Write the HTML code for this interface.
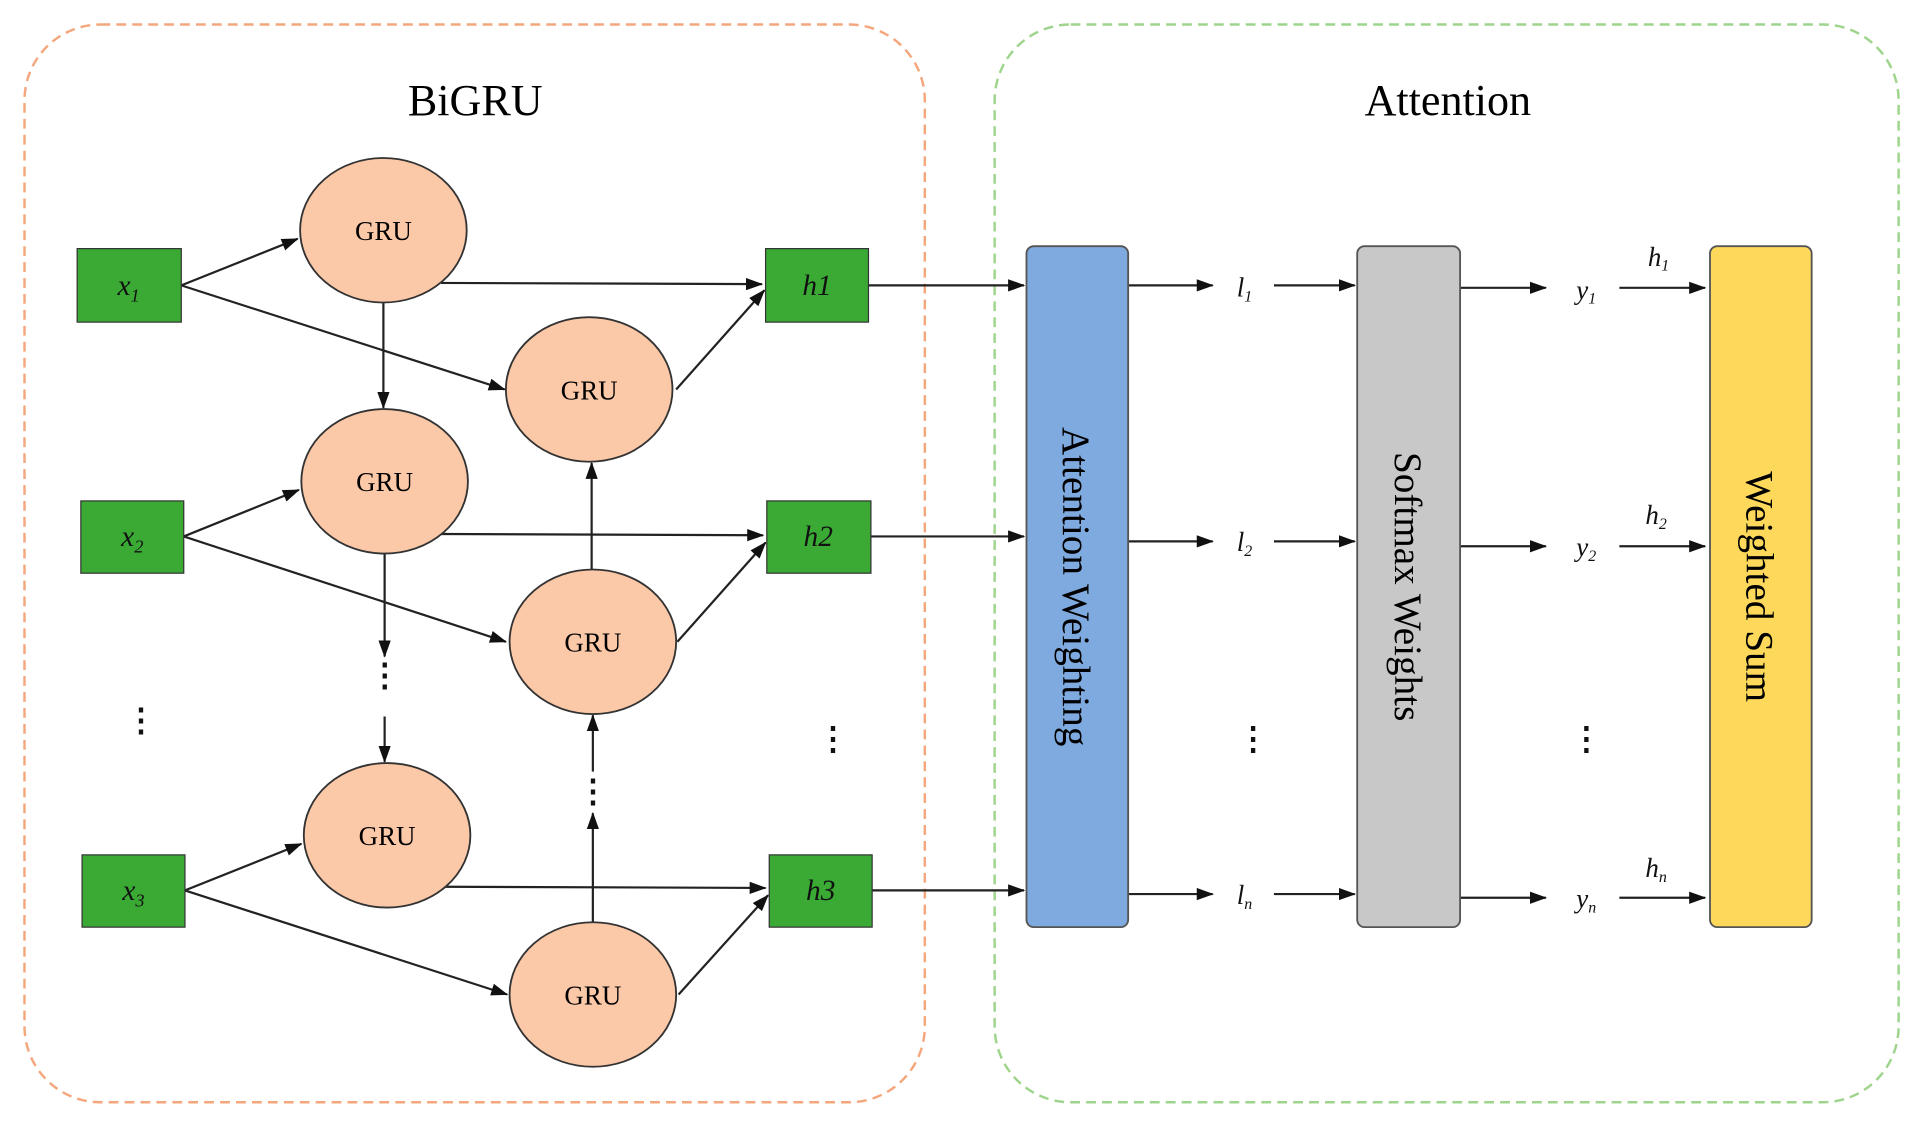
<!DOCTYPE html>
<html><head><style>html,body{margin:0;padding:0;background:#fff}svg{display:block}</style></head>
<body>
<svg width="1917" height="1128" viewBox="0 0 1565 921" preserveAspectRatio="none" xmlns="http://www.w3.org/2000/svg" font-family="Liberation Serif, serif">
<defs><marker id="a" markerWidth="14" markerHeight="10" refX="13" refY="5" orient="auto" markerUnits="userSpaceOnUse"><path d="M0,0 L14,5 L0,10 z" fill="#111"/></marker></defs>
<rect x="20" y="20" width="735" height="880" rx="62" fill="none" stroke="#f4a77c" stroke-width="2" stroke-dasharray="8,5"/>
<rect x="812" y="20" width="738" height="880" rx="62" fill="none" stroke="#9ed48c" stroke-width="2" stroke-dasharray="8,5"/>
<text x="388" y="94" font-size="36" text-anchor="middle">BiGRU</text>
<text x="1182" y="94" font-size="36" text-anchor="middle">Attention</text>
<g stroke="#222" stroke-width="1.8" fill="none" marker-end="url(#a)">
<line x1="148" y1="233" x2="243" y2="195"/>
<line x1="148" y1="233" x2="412" y2="318"/>
<line x1="360" y1="231" x2="622" y2="232"/>
<line x1="552" y1="318" x2="624" y2="237"/>
<line x1="313" y1="247" x2="313" y2="333"/>
<line x1="150" y1="438" x2="244" y2="400"/>
<line x1="150" y1="438" x2="413" y2="524"/>
<line x1="360" y1="436" x2="623" y2="437"/>
<line x1="553" y1="524" x2="625" y2="443"/>
<line x1="483" y1="465" x2="483" y2="378"/>
<line x1="314" y1="452" x2="314" y2="536"/>
<line x1="314" y1="585" x2="314" y2="622"/>
<line x1="484" y1="630" x2="484" y2="584"/>
<line x1="484" y1="753" x2="484" y2="664"/>
<line x1="151" y1="727" x2="246" y2="689"/>
<line x1="151" y1="727" x2="414" y2="812"/>
<line x1="362" y1="724" x2="625" y2="725"/>
<line x1="554" y1="812" x2="627" y2="731"/>
<line x1="709" y1="233" x2="836" y2="233"/>
<line x1="711" y1="438" x2="836" y2="438"/>
<line x1="712" y1="727" x2="836" y2="727"/>
<line x1="921" y1="233" x2="990" y2="233"/>
<line x1="1040" y1="233" x2="1106" y2="233"/>
<line x1="921" y1="442" x2="990" y2="442"/>
<line x1="1040" y1="442" x2="1106" y2="442"/>
<line x1="921" y1="730" x2="990" y2="730"/>
<line x1="1040" y1="730" x2="1106" y2="730"/>
<line x1="1192" y1="235" x2="1262" y2="235"/>
<line x1="1322" y1="235" x2="1392" y2="235"/>
<line x1="1192" y1="446" x2="1262" y2="446"/>
<line x1="1322" y1="446" x2="1392" y2="446"/>
<line x1="1192" y1="733" x2="1262" y2="733"/>
<line x1="1322" y1="733" x2="1392" y2="733"/>
</g>
<g font-size="26" font-weight="bold" fill="#111">
<text x="314" y="560" text-anchor="middle">⋮</text>
<text x="484" y="655" text-anchor="middle">⋮</text>
<text x="115" y="597" text-anchor="middle">⋮</text>
<text x="680" y="612" text-anchor="middle">⋮</text>
<text x="1023" y="612" text-anchor="middle">⋮</text>
<text x="1295" y="612" text-anchor="middle">⋮</text>
</g>
<g fill="#fcc9a8" stroke="#333" stroke-width="1.5">
<ellipse cx="313" cy="188" rx="68" ry="59"/><ellipse cx="314" cy="393" rx="68" ry="59"/><ellipse cx="316" cy="682" rx="68" ry="59"/>
<ellipse cx="481" cy="318" rx="68" ry="59"/><ellipse cx="484" cy="524" rx="68" ry="59"/><ellipse cx="484" cy="812" rx="68" ry="59"/>
</g>
<g font-size="22" text-anchor="middle">
<text x="313" y="196">GRU</text><text x="314" y="401">GRU</text><text x="316" y="690">GRU</text>
<text x="481" y="326">GRU</text><text x="484" y="532">GRU</text><text x="484" y="820">GRU</text>
</g>
<g fill="#3aaa35" stroke="#333" stroke-width="1">
<rect x="63" y="203" width="85" height="60"/><rect x="66" y="409" width="84" height="59"/><rect x="67" y="698" width="84" height="59"/>
<rect x="625" y="203" width="84" height="60"/><rect x="626" y="409" width="85" height="59"/><rect x="628" y="698" width="84" height="59"/>
</g>
<g font-size="24" font-style="italic" text-anchor="middle" fill="#111">
<text x="105" y="241">x<tspan font-size="15" dy="5">1</tspan></text>
<text x="108" y="446">x<tspan font-size="15" dy="5">2</tspan></text>
<text x="109" y="735">x<tspan font-size="15" dy="5">3</tspan></text>
<text x="667" y="241">h1</text><text x="668" y="446">h2</text><text x="670" y="735">h3</text>
</g>
<rect x="838" y="201" width="83" height="556" rx="6" fill="#7faadf" stroke="#555" stroke-width="1.5"/>
<rect x="1108" y="201" width="84" height="556" rx="6" fill="#c8c8c8" stroke="#555" stroke-width="1.5"/>
<rect x="1396" y="201" width="83" height="556" rx="6" fill="#fdd85b" stroke="#555" stroke-width="1.5"/>
<g font-size="32" text-anchor="middle">
<text transform="translate(868,479) rotate(90)">Attention Weighting</text>
<text transform="translate(1139,479) rotate(90)">Softmax Weights</text>
<text transform="translate(1426,479) rotate(90)">Weighted Sum</text>
</g>
<g font-size="22" font-style="italic" text-anchor="middle" fill="#111">
<text x="1016" y="242">l<tspan font-size="13" dy="4">1</tspan></text>
<text x="1016" y="450">l<tspan font-size="13" dy="4">2</tspan></text>
<text x="1016" y="738">l<tspan font-size="13" dy="4">n</tspan></text>
<text x="1295" y="244">y<tspan font-size="13" dy="4">1</tspan></text>
<text x="1295" y="454">y<tspan font-size="13" dy="4">2</tspan></text>
<text x="1295" y="741">y<tspan font-size="13" dy="4">n</tspan></text>
<text x="1354" y="217">h<tspan font-size="13" dy="4">1</tspan></text>
<text x="1352" y="428">h<tspan font-size="13" dy="4">2</tspan></text>
<text x="1352" y="716">h<tspan font-size="13" dy="4">n</tspan></text>
</g>
</svg>
</body></html>
